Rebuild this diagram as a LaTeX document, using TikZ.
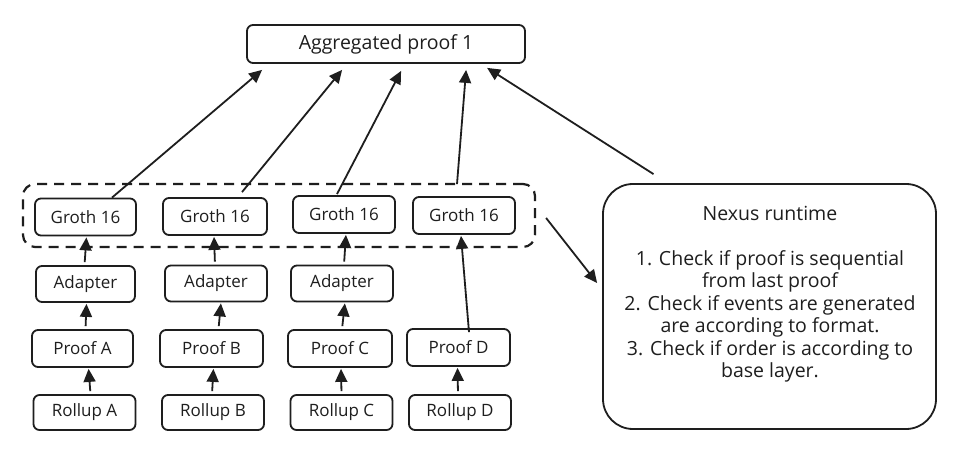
\documentclass[tikz,border=0pt]{standalone}
\usepackage{fontspec}
\setmainfont{Open Sans}
\usetikzlibrary{arrows.meta}
\definecolor{ink}{HTML}{1E1E1E}
\begin{document}
\begin{tikzpicture}[x=1pt,y=-1pt,
  every node/.style={text=ink},
  box/.style={draw=ink,line width=1.8pt,rounded corners=6pt,inner sep=0pt,
    minimum height=37pt,minimum width=102pt,font=\fontsize{17}{20}\selectfont},
  grpbox/.style={draw=ink,line width=2.2pt,rounded corners=12pt,dash pattern=on 10pt off 7pt,
    inner sep=0pt,minimum width=512pt,minimum height=63pt},
  nexbox/.style={draw=ink,line width=1.8pt,rounded corners=30pt,inner sep=0pt,
    minimum width=333pt,minimum height=245pt},
  arr/.style={draw=ink,line width=1.8pt,-{Triangle[length=13pt,width=12pt]}},
  shortarr/.style={arr,shorten <=3pt,shorten >=1pt}]
\useasboundingbox[fill=white] (0,0) rectangle (963,462);

% top
\node[box,minimum width=278pt,minimum height=38pt,font=\fontsize{19.5}{22}\selectfont] (agg) at (386,44) {Aggregated proof 1};

% group
\node[grpbox] (grp) at (279,215.5) {};

% Groth row
\node[box,minimum width=101pt] (g1) at (85.5,217) {Groth 16};
\node[box,minimum width=104pt] (g2) at (215,216.5) {Groth 16};
\node[box] (g3) at (344,214.5) {Groth 16};
\node[box] (g4) at (464,215.5) {Groth 16};

% Adapter row
\node[box,minimum width=99pt,minimum height=36pt] (a1) at (85.5,284) {Adapter};
\node[box,minimum height=36pt] (a2) at (216,283.5) {Adapter};
\node[box,minimum height=36pt] (a3) at (342,283.5) {Adapter};

% Proof row
\node[box,minimum width=101pt] (p1) at (82.5,348.5) {Proof A};
\node[box,minimum width=103pt] (p2) at (211.5,348.5) {Proof B};
\node[box,minimum width=104pt] (p3) at (340,348.5) {Proof C};
\node[box,minimum width=103pt] (p4) at (458.5,347.5) {Proof D};

% Rollup row
\node[box,minimum height=35pt] (r1) at (84.5,412.5) {Rollup A};
\node[box,minimum height=35pt] (r2) at (213,412.5) {Rollup B};
\node[box,minimum height=35pt] (r3) at (341.5,412.5) {Rollup C};
\node[box,minimum height=35pt] (r4) at (460,412.5) {Rollup D};

% Nexus
\node[nexbox] (nx) at (769.5,306.5) {};
\node[align=center,font=\fontsize{19.5}{22.5}\selectfont] (nxt) at (770,294)
  {Nexus runtime\\[22.5pt]
   1. Check if proof is sequential\\
   from last proof\\
   2. Check if events are generated\\
   are according to format.\\
   3. Check if order is according to\\
   base layer.};

% vertical arrows
\draw[shortarr] ([xshift=6pt]r1.north) -- ([xshift=6pt]p1.south);
\draw[shortarr] ([xshift=-1pt]r2.north) -- ([xshift=2pt]p2.south);
\draw[shortarr] ([xshift=0pt]r3.north) -- ([xshift=1pt]p3.south);
\draw[shortarr] ([xshift=-2pt]r4.north) -- ([xshift=-1pt]p4.south);

\draw[shortarr] ([xshift=3pt]p1.north) -- ([xshift=1pt]a1.south);
\draw[shortarr] ([xshift=7pt]p2.north) -- ([xshift=5pt]a2.south);
\draw[shortarr] ([xshift=2pt]p3.north) -- ([xshift=3pt]a3.south);

\draw[shortarr] ([xshift=-1pt]a1.north) -- ([xshift=1pt]g1.south);
\draw[shortarr] ([xshift=-1pt]a2.north) -- ([xshift=-1pt]g2.south);
\draw[shortarr] ([xshift=2pt]a3.north) -- ([xshift=2pt]g3.south);
\draw[arr] ([xshift=10.5pt,yshift=-4pt]p4.north) -- ([xshift=-3pt,yshift=-1pt]g4.south);

% to aggregated proof
\draw[arr] ([xshift=26.5pt]g1.north) -- ([xshift=16pt,yshift=-6pt]agg.south west);
\draw[arr] ([xshift=27pt,yshift=5pt]g2.north) -- ([xshift=96pt,yshift=-6pt]agg.south west);
\draw[arr] ([xshift=-7pt,yshift=1pt]g3.north) -- ([xshift=155pt,yshift=-7pt]agg.south west);
\draw[arr] ([xshift=-7pt,yshift=12pt]g4.north) -- ([xshift=220pt,yshift=-6pt]agg.south west);
\draw[arr] ([xshift=-116pt,yshift=9pt]nx.north) -- ([xshift=241pt,yshift=-4pt]agg.south west);

% group to nexus
\draw[arr] ([xshift=10pt,yshift=-2.5pt]grp.east) -- ([xshift=-5pt,yshift=23.5pt]nx.west);
\end{tikzpicture}
\end{document}
